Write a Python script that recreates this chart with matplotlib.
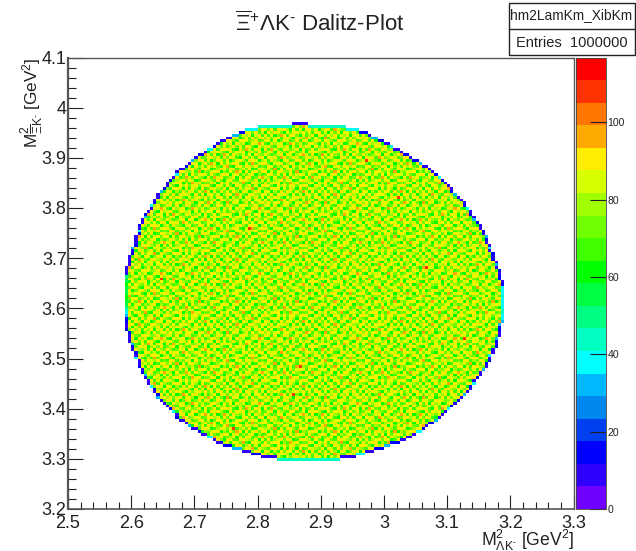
import numpy as np
import matplotlib
matplotlib.use("Agg")
import matplotlib.pyplot as plt
from matplotlib.colors import ListedColormap, BoundaryNorm
from matplotlib.patches import Rectangle
from matplotlib.lines import Line2D
from matplotlib.ticker import MultipleLocator

plt.rcParams['font.family'] = ['Liberation Sans', 'DejaVu Sans']
plt.rcParams['mathtext.fontset'] = 'custom'
plt.rcParams['mathtext.rm'] = 'Liberation Sans'
plt.rcParams['mathtext.it'] = 'Liberation Sans'
plt.rcParams['mathtext.bf'] = 'Liberation Sans'
plt.rcParams['mathtext.fallback'] = 'stixsans'

# Histogram binning
n_bins = 160
x_range = (2.5, 3.3)
y_range = (3.2, 4.1)
z_max = 116.8
n_levels = 20

band_colors = ['#7000ff', '#3000ff', '#0000ff', '#0040f0', '#0088f0',
               '#00b8ff', '#00ffff', '#00ffc0', '#00ff80', '#00ff40',
               '#00ff00', '#40ff00', '#70ff00', '#a0ff00', '#d8ff00',
               '#ffee00', '#ffaa00', '#ff7700', '#ff3300', '#ff0000']

# First filled row, then per-row first and last filled x bin
first_row = 17
row_first = [66,61,58,55,52,49,47,46,44,42,41,39,38,37,35,34,34,33,32,31,
             30,29,28,28,27,27,26,25,25,24,24,23,23,22,22,22,21,21,21,20,
             20,20,19,19,19,19,18,18,18,18,18,18,18,18,18,18,18,18,18,18,
             18,18,18,18,18,18,18,18,18,19,19,19,19,20,20,20,21,21,21,21,22,22,
             22,22,23,23,24,24,25,26,26,27,27,28,28,29,30,31,31,32,33,34,
             34,35,37,38,39,40,41,43,44,46,47,48,50,52,54,56,60,71]
row_last = [85,90,93,96,99,101,104,106,108,109,111,112,113,115,116,117,118,119,120,121,
            122,123,124,125,126,127,127,128,128,129,130,130,131,132,132,133,133,133,134,134,
            135,135,135,135,136,136,136,136,136,137,137,137,137,137,137,137,137,137,137,137,
            137,137,137,137,136,136,136,136,135,135,135,134,134,134,133,133,133,132,132,132,
            131,131,130,130,129,128,128,127,127,126,125,125,124,123,122,121,121,120,119,118,
            117,116,115,114,113,111,110,108,107,105,104,102,101,99,97,95,94,91,87,75]

# Level of partly filled border cells on each side, per row
edge_left = [45,6,14,8,30,12,6,10,40,8,14,6,30,10,8,12,6,40,14,8,
             10,6,30,12,8,14,40,6,10,8,30,12,6,14,8,10,40,6,12,8,
             14,30,6,10,8,12,14,8,10,12,14,30,40,45,50,55,58,60,60,58,
             55,58,60,58,55,52,8,6,8,6,8,6,10,14,6,30,12,8,6,10,
             14,40,8,12,6,10,30,14,8,6,40,12,10,6,8,30,14,8,6,12,
             10,40,8,6,14,10,30,6,12,8,40,14,6,10,8,30,12,40,45,8]
edge_right = [45,8,40,6,12,30,14,8,6,10,40,12,6,14,30,8,10,6,40,14,
              8,12,6,30,10,8,14,40,6,12,10,8,30,6,14,12,8,40,10,6,
              14,8,12,30,10,8,14,12,30,35,40,40,42,42,40,40,38,40,42,40,
              40,38,12,10,14,12,10,14,8,30,6,12,10,14,8,40,6,10,12,30,
              8,14,6,10,12,30,8,14,6,40,12,10,8,6,30,14,10,6,8,12,
              40,14,6,10,8,30,12,6,14,10,8,40,6,12,30,8,14,40,42,8]

# Patch of interior levels, estimated by eye and repeated across the interior
interior_patch = [
    [90,73,85,90,90,61,79,67,96,85,90,67,73,73,90,85,61,90,79,90,67,90,85,73,96,67,61,90,85,79,67],
    [67,90,67,79,85,90,73,90,85,61,67,90,90,85,79,67,90,73,61,85,90,73,67,90,90,85,79,73,90,61,85],
    [85,79,61,90,67,73,96,85,67,90,79,73,61,90,67,96,85,90,67,73,79,90,61,85,67,90,90,67,73,90,96],
    [73,90,90,73,85,67,90,61,90,73,85,90,85,67,90,73,67,85,90,90,61,85,90,67,79,73,85,90,61,79,67],
    [90,61,85,67,90,90,79,73,85,67,96,61,79,73,85,90,90,61,79,67,85,73,96,90,61,90,67,85,90,73,90],
    [79,85,73,96,61,85,67,90,90,79,67,90,90,85,61,67,79,90,85,73,90,90,67,79,85,73,90,61,67,90,85],
    [67,90,90,67,79,73,90,85,61,90,73,85,67,90,79,90,73,67,90,96,67,61,85,90,73,90,85,79,90,67,73],
    [90,73,61,85,90,90,67,79,90,85,61,79,90,73,96,85,61,90,73,85,79,90,90,67,61,85,67,96,73,85,90],
    [85,67,90,79,73,61,85,90,67,73,90,90,67,85,61,73,90,85,67,90,61,73,85,90,79,67,90,90,85,61,79],
    [61,90,85,90,67,96,90,73,79,90,85,67,73,90,90,79,85,67,90,73,90,85,67,61,90,90,73,85,67,90,90],
    [90,79,67,73,85,90,61,90,85,61,79,90,96,85,67,90,61,73,96,85,67,90,79,73,85,67,90,61,90,79,73],
    [73,85,90,61,90,79,73,67,90,90,67,73,85,61,90,85,90,79,67,61,90,73,90,85,90,61,79,85,73,90,67],
    [90,67,96,85,73,67,90,85,73,79,90,61,90,67,73,90,67,85,90,90,85,67,61,90,73,96,85,67,90,85,61],
    [85,90,73,67,90,85,79,90,61,85,67,90,79,90,85,61,90,73,85,67,79,90,73,85,67,90,90,73,61,90,79],
    [67,61,90,79,85,90,61,73,96,90,73,85,67,73,90,90,79,61,90,73,90,61,90,79,85,61,67,90,85,96,90],
    [90,85,67,90,61,73,90,85,67,73,90,67,90,85,61,73,90,85,67,90,85,73,67,90,90,85,73,79,90,67,73],
    [79,90,73,85,90,67,85,90,79,61,85,90,73,96,90,67,85,73,61,96,67,90,85,61,73,90,67,90,73,85,90],
    [90,67,85,61,73,96,90,67,90,90,73,61,85,67,79,90,61,90,85,73,90,79,90,67,85,79,90,61,85,90,67],
    [61,90,79,90,85,73,61,85,73,85,90,79,90,73,85,67,90,90,67,85,61,85,73,90,61,90,85,73,90,67,85],
    [85,73,90,67,90,85,90,79,61,90,67,85,61,90,90,73,85,61,79,90,90,67,96,85,73,67,90,90,79,73,90],
    [90,85,61,79,67,90,73,90,85,67,90,73,96,85,61,90,67,90,73,85,67,90,79,61,90,85,61,73,90,85,61],
    [73,67,90,90,85,61,85,67,90,79,61,90,67,73,90,85,79,73,90,61,90,85,67,90,73,90,85,96,67,90,79],
    [90,85,73,61,90,79,90,73,85,90,73,85,90,90,67,61,90,85,67,90,73,61,90,85,67,79,90,67,85,61,90],
]

# Hot cells seen in the picture (x, y)
hot_x = [2.761, 2.786, 2.646, 2.856, 2.867, 3.127, 3.022, 3.067, 2.972]
hot_y = [3.363, 3.762, 3.660, 3.427, 3.483, 3.541, 3.822, 3.680, 3.894]
hot_level = 110

x_tick_labels = ['2.5', '2.6', '2.7', '2.8', '2.9', '3', '3.1', '3.2', '3.3']
y_tick_labels = ['3.2', '3.3', '3.4', '3.5', '3.6', '3.7', '3.8', '3.9', '4', '4.1']
z_ticks = [0, 20, 40, 60, 80, 100]
hist_name = 'hm2LamKm_XibKm'
entries_text = 'Entries  1000000'

# Assemble histogram
xe = np.linspace(*x_range, n_bins + 1)
ye = np.linspace(*y_range, n_bins + 1)
patch = np.array(interior_patch, float)
filled = np.zeros((n_bins + 2, n_bins + 2), bool)
for k, (a, b) in enumerate(zip(row_first, row_last)):
    filled[first_row + k + 1, a + 1:b + 2] = True
Z = np.full((n_bins, n_bins), np.nan)
for k, (a, b) in enumerate(zip(row_first, row_last)):
    j = first_row + k
    mid = (a + b) / 2
    for i in range(a, b + 1):
        around = (filled[j + 2, i + 1] and filled[j, i + 1]
                  and filled[j + 1, i + 2] and filled[j + 1, i])
        if around:
            Z[j, i] = patch[j % patch.shape[0], i % patch.shape[1]]
        else:
            Z[j, i] = edge_left[k] if i < mid else edge_right[k]
for hx, hy in zip(hot_x, hot_y):
    Z[np.searchsorted(ye, hy) - 1, np.searchsorted(xe, hx) - 1] = hot_level

W, H = 636, 551
fig = plt.figure(figsize=(W / 100, H / 100), dpi=100, facecolor='white')
ax = fig.add_axes([68 / W, 1 - 509 / H, 505.5 / W, 451.5 / H])
cmap = ListedColormap(band_colors)
levels = np.linspace(0, z_max, n_levels + 1)
norm = BoundaryNorm(levels, cmap.N)
mesh = ax.pcolormesh(xe, ye, Z, cmap=cmap, norm=norm, linewidth=0, antialiased=False)
ax.set_xlim(*x_range)
ax.set_ylim(*y_range)

ax.set_xticks(np.arange(len(x_tick_labels)) * 0.1 + 2.5, x_tick_labels)
ax.set_yticks(np.arange(len(y_tick_labels)) * 0.1 + 3.2, y_tick_labels)
ax.xaxis.set_minor_locator(MultipleLocator(0.02))
ax.yaxis.set_minor_locator(MultipleLocator(0.02))
ax.tick_params(axis='x', which='major', direction='in', length=10, width=0.8,
               labelsize=13, pad=4, colors='#222222')
ax.tick_params(axis='y', which='major', direction='in', length=11, width=0.8,
               labelsize=13, pad=1, colors='#222222')
ax.tick_params(axis='x', which='minor', direction='in', length=5, width=0.8, color='#222222')
ax.tick_params(axis='y', which='minor', direction='in', length=5.5, width=0.8, color='#222222')
for side, lw in zip(['left', 'bottom', 'top', 'right'], [1.6, 1.2, 1.0, 1.0]):
    ax.spines[side].set_linewidth(lw)
    ax.spines[side].set_color('#555555')

# Colour bar
cax = fig.add_axes([576 / W, 1 - 509 / H, 30 / W, 451.5 / H])
cb = fig.colorbar(mesh, cax=cax, spacing='proportional', ticks=z_ticks, drawedges=False)
cb.ax.minorticks_off()
cb.ax.tick_params(direction='in', length=11.5, width=0.8, labelsize=7.6, pad=1,
                  color='#222222', labelcolor='#222222')
cb.outline.set_linewidth(0.6)
cb.outline.set_edgecolor('#444444')

# Title and axis labels
fig.text(320 / W, 1 - 24 / H, '$\\mathrm{\\overline{\\Xi}^{+}\\Lambda K^{\u2010}}$ Dalitz-Plot',
         ha='center', va='center', fontsize=16, color='#222222')
fig.text(574 / W, 1 - 546 / H, '$\\mathrm{M^{2}_{\\Lambda K^{\u2010}}}$ [GeV$^{2}$]',
         ha='right', va='baseline', fontsize=12.7, color='#222222')
fig.text(32 / W, 1 - 57 / H, '$\\mathrm{M^{2}_{\\overline{\\Xi}K^{\u2010}}}$ [GeV$^{2}$]',
         ha='center', va='top', rotation=90, fontsize=12.3, color='#222222')

# Stats box
fig.add_artist(Rectangle((508.5 / W, 1 - 54.5 / H), 126 / W, 51 / H, transform=fig.transFigure,
                         facecolor='white', edgecolor='#222222', linewidth=1.0))
fig.add_artist(Line2D([508.5 / W, 634.5 / W], [1 - 28.5 / H, 1 - 28.5 / H],
                      transform=fig.transFigure, color='#222222', linewidth=1.0))
fig.text(571 / W, 1 - 15.5 / H, hist_name, ha='center', va='center', fontsize=9.9, color='#222222')
fig.text(571.5 / W, 1 - 43 / H, entries_text, ha='center', va='center', fontsize=10.5, color='#222222')

fig.savefig('out.png', dpi=100)
